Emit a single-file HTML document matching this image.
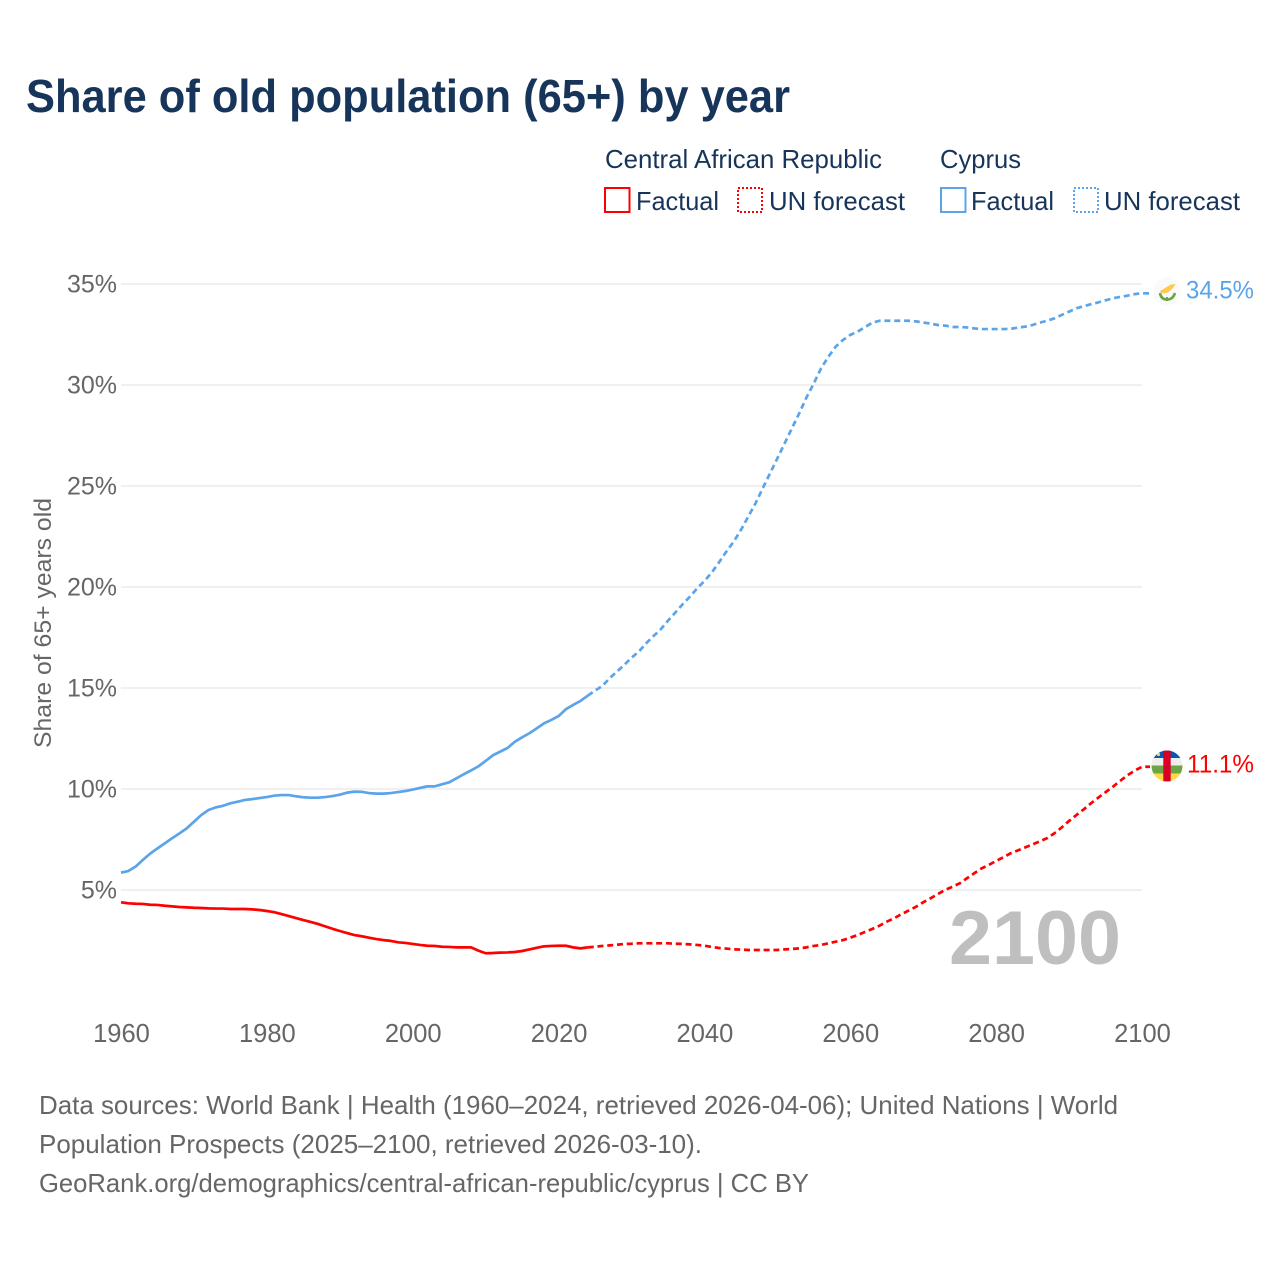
<!DOCTYPE html>
<html lang="en">
<head>
<meta charset="utf-8">
<title>Share of old population (65+) by year</title>
<style>
html,body{margin:0;padding:0;background:#fff;}
svg{display:block;}
text{font-family:"Liberation Sans",sans-serif;}
.navy{fill:#17355a;}
.grey{fill:#666;}
</style>
</head>
<body>
<svg id="chart" xmlns="http://www.w3.org/2000/svg" width="1280" height="1280" viewBox="0 0 1280 1280">
  <rect x="0" y="0" width="1280" height="1280" fill="#fff"/>
  <text class="navy" x="26" y="112" font-size="46" font-weight="bold" textLength="764" lengthAdjust="spacingAndGlyphs">Share of old population (65+) by year</text>

  <g font-size="26">
    <text class="navy" x="605" y="168" textLength="277" lengthAdjust="spacingAndGlyphs">Central African Republic</text>
    <text class="navy" x="940" y="168" textLength="81" lengthAdjust="spacingAndGlyphs">Cyprus</text>
    <rect x="605" y="188" width="24.5" height="24" fill="none" stroke="#ff0000" stroke-width="2"/>
    <text class="navy" x="636" y="210" textLength="83" lengthAdjust="spacingAndGlyphs">Factual</text>
    <rect x="738" y="188" width="24" height="24" fill="none" stroke="#ff0000" stroke-width="2" stroke-dasharray="2 2"/>
    <text class="navy" x="769" y="210" textLength="136" lengthAdjust="spacingAndGlyphs">UN forecast</text>
    <rect x="941" y="188" width="24.5" height="24" fill="none" stroke="#5ba4ea" stroke-width="2"/>
    <text class="navy" x="971" y="210" textLength="83" lengthAdjust="spacingAndGlyphs">Factual</text>
    <rect x="1074" y="188" width="24" height="24" fill="none" stroke="#5ba4ea" stroke-width="2" stroke-dasharray="2 2"/>
    <text class="navy" x="1104" y="210" textLength="136" lengthAdjust="spacingAndGlyphs">UN forecast</text>
  </g>

  <text class="grey" transform="translate(51,748) rotate(-90)" font-size="24" textLength="250" lengthAdjust="spacingAndGlyphs">Share of 65+ years old</text>

  <g id="grid"></g>
  <g id="yticks"></g>
  <g id="xticks"></g>

  <text x="949" y="964" font-size="76" font-weight="bold" fill="#bfbfbf" textLength="172" lengthAdjust="spacingAndGlyphs">2100</text>

  <g id="series"></g>

  <g id="flag-car">
    <clipPath id="clip-car"><circle cx="1167" cy="766" r="15.5"/></clipPath>
    <g clip-path="url(#clip-car)">
      <rect x="1150" y="750" width="34" height="8.2" fill="#0a56b0"/>
      <rect x="1150" y="758" width="34" height="7.5" fill="#eeeeee"/>
      <rect x="1150" y="765.5" width="34" height="8" fill="#6da544"/>
      <rect x="1150" y="773.5" width="34" height="9" fill="#ffda44"/>
      <rect x="1163.3" y="750" width="7.4" height="33" fill="#d80027"/>
      <circle cx="1158.5" cy="754.5" r="1.6" fill="#ffda44"/>
    </g>
  </g>
  <g id="flag-cyprus">
    <circle cx="1167" cy="291.5" r="14" fill="#fafafa"/>
    <path d="M1159.5 291.5 L1165 288 L1171 284.5 L1175.5 284 L1173 288 L1168 292.5 L1163 293.5 Z" fill="#ffc94a"/>
    <path d="M1160 293 Q1161 299.5 1167 299.5 Q1173 299.5 1175 293" fill="none" stroke="#6da544" stroke-width="2.6"/>
    <path d="M1167 297 L1167 301" stroke="#6da544" stroke-width="2"/>
  </g>

  <text id="label-cyprus" x="1186" y="298.5" font-size="25" fill="#5ba4ea" textLength="68" lengthAdjust="spacingAndGlyphs"></text>
  <text id="label-car" x="1187" y="772.5" font-size="25" fill="#ff0000" textLength="67" lengthAdjust="spacingAndGlyphs"></text>

  <g class="grey" font-size="26">
    <text class="grey" x="39" y="1114" textLength="1079" lengthAdjust="spacingAndGlyphs">Data sources: World Bank | Health (1960–2024, retrieved 2026-04-06); United Nations | World</text>
    <text class="grey" x="39" y="1153" textLength="663" lengthAdjust="spacingAndGlyphs">Population Prospects (2025–2100, retrieved 2026-03-10).</text>
    <text class="grey" x="39" y="1192" textLength="770" lengthAdjust="spacingAndGlyphs">GeoRank.org/demographics/central-african-republic/cyprus | CC BY</text>
  </g>
</svg>
<script>
const years = [
1960,1961,1962,1963,1964,1965,1966,1967,1968,1969,
1970,1971,1972,1973,1974,1975,1976,1977,1978,1979,
1980,1981,1982,1983,1984,1985,1986,1987,1988,1989,
1990,1991,1992,1993,1994,1995,1996,1997,1998,1999,
2000,2001,2002,2003,2004,2005,2006,2007,2008,2009,
2010,2011,2012,2013,2014,2015,2016,2017,2018,2019,
2020,2021,2022,2023,2024,2025,2026,2027,2028,2029,
2030,2031,2032,2033,2034,2035,2036,2037,2038,2039,
2040,2041,2042,2043,2044,2045,2046,2047,2048,2049,
2050,2051,2052,2053,2054,2055,2056,2057,2058,2059,
2060,2061,2062,2063,2064,2065,2066,2067,2068,2069,
2070,2071,2072,2073,2074,2075,2076,2077,2078,2079,
2080,2081,2082,2083,2084,2085,2086,2087,2088,2089,
2090,2091,2092,2093,2094,2095,2096,2097,2098,2099,
2100];
const carValues = [
4.39,4.34,4.32,4.31,4.27,4.26,4.22,4.19,4.16,4.14,
4.12,4.11,4.09,4.08,4.08,4.06,4.06,4.06,4.04,4.01,
3.96,3.90,3.81,3.71,3.61,3.51,3.42,3.32,3.20,3.08,
2.97,2.87,2.77,2.71,2.64,2.57,2.52,2.48,2.41,2.38,
2.33,2.28,2.24,2.23,2.19,2.18,2.16,2.16,2.16,2.00,
1.87,1.88,1.90,1.91,1.93,1.98,2.06,2.14,2.21,2.23,
2.24,2.24,2.16,2.11,2.16,2.19,2.23,2.26,2.29,2.33,
2.34,2.36,2.36,2.36,2.36,2.36,2.34,2.33,2.31,2.28,
2.24,2.18,2.13,2.10,2.06,2.05,2.03,2.03,2.03,2.03,
2.03,2.06,2.08,2.11,2.16,2.23,2.28,2.36,2.44,2.52,
2.64,2.77,2.92,3.07,3.23,3.43,3.60,3.80,3.98,4.17,
4.39,4.59,4.80,5.00,5.16,5.33,5.58,5.83,6.07,6.24,
6.44,6.62,6.82,6.96,7.11,7.26,7.41,7.57,7.81,8.10,
8.42,8.71,8.99,9.29,9.57,9.84,10.11,10.40,10.68,10.91,
11.10];
const cyprusValues = [
5.86,5.94,6.16,6.49,6.80,7.06,7.31,7.56,7.80,8.05,
8.38,8.71,8.96,9.09,9.17,9.29,9.37,9.46,9.50,9.55,
9.60,9.67,9.70,9.70,9.64,9.59,9.57,9.57,9.60,9.65,
9.72,9.82,9.87,9.86,9.80,9.77,9.77,9.80,9.85,9.90,
9.97,10.05,10.13,10.13,10.23,10.33,10.53,10.73,10.92,11.12,
11.39,11.67,11.85,12.03,12.34,12.56,12.76,13.00,13.25,13.42,
13.61,13.95,14.16,14.36,14.62,14.87,15.10,15.48,15.81,16.14,
16.50,16.80,17.21,17.57,17.90,18.33,18.73,19.14,19.52,19.93,
20.30,20.71,21.22,21.75,22.24,22.82,23.48,24.14,24.89,25.63,
26.37,27.11,27.86,28.60,29.39,30.08,30.83,31.40,31.90,32.23,
32.48,32.64,32.86,33.08,33.18,33.18,33.18,33.18,33.18,33.15,
33.09,33.04,32.97,32.94,32.87,32.87,32.85,32.80,32.77,32.77,
32.77,32.77,32.78,32.84,32.89,32.97,33.09,33.18,33.30,33.47,
33.63,33.80,33.90,34.00,34.09,34.19,34.29,34.36,34.42,34.50,
34.54];
const lastFactualYear = 2024;
const yTickValues = [5,10,15,20,25,30,35];
const yTickLabels = ["5%","10%","15%","20%","25%","30%","35%"];
const xTickValues = [1960,1980,2000,2020,2040,2060,2080,2100];
const xTickLabels = ["1960","1980","2000","2020","2040","2060","2080","2100"];

const SVG_NS = "http://www.w3.org/2000/svg";
const plotLeft = 121, plotRight = 1142;
function xScale(year){ return plotLeft + (year - 1960) * (plotRight - plotLeft) / 140; }
function yScale(v){ return 991 - v * 20.2; }

const gridG = document.getElementById("grid");
const yG = document.getElementById("yticks");
const xG = document.getElementById("xticks");
const seriesG = document.getElementById("series");

yTickValues.forEach(function(v, i){
  const line = document.createElementNS(SVG_NS, "line");
  
  
  line.setAttribute("x1", plotLeft);
  line.setAttribute("x2", plotRight);
  line.setAttribute("y1", yScale(v));
  line.setAttribute("y2", yScale(v));
  line.setAttribute("stroke", "#e8e8e8");
  line.setAttribute("stroke-width", "1.2");
  gridG.appendChild(line);

  const t = document.createElementNS(SVG_NS, "text");
  
  
  t.setAttribute("x", 117);
  t.setAttribute("y", yScale(v) + 8.5);
  t.setAttribute("text-anchor", "end");
  t.setAttribute("font-size", "25");
  t.setAttribute("fill", "#666");
  t.textContent = yTickLabels[i];
  yG.appendChild(t);
});

xTickValues.forEach(function(yr, i){
  const t = document.createElementNS(SVG_NS, "text");
  
  
  t.setAttribute("x", xScale(yr) + 0.5);
  t.setAttribute("y", 1042);
  t.setAttribute("text-anchor", "middle");
  t.setAttribute("font-size", "25.5");
  t.setAttribute("fill", "#666");
  t.textContent = xTickLabels[i];
  xG.appendChild(t);
});

function pathFor(pairs){
  return pairs.map(function(p, i){
    return (i ? "L" : "M") + xScale(p[0]).toFixed(2) + " " + yScale(p[1]).toFixed(2);
  }).join(" ");
}

function drawSeries(values, color, key){
  const factual = [], forecast = [];
  years.forEach(function(yr, i){
    if (yr <= lastFactualYear) factual.push([yr, values[i]]);
    if (yr >= lastFactualYear) forecast.push([yr, values[i]]);
  });
  const solid = document.createElementNS(SVG_NS, "path");
  
  
  solid.setAttribute("d", pathFor(factual));
  solid.setAttribute("fill", "none");
  solid.setAttribute("stroke", color);
  solid.setAttribute("stroke-width", "2.7");
  solid.setAttribute("stroke-linejoin", "round");
  seriesG.appendChild(solid);

  const dashed = document.createElementNS(SVG_NS, "path");
  
  
  const last = values[values.length - 1];
  dashed.setAttribute("d", pathFor(forecast) + " h8");
  dashed.setAttribute("fill", "none");
  dashed.setAttribute("stroke", color);
  dashed.setAttribute("stroke-width", "2.7");
  dashed.setAttribute("stroke-linejoin", "round");
  dashed.setAttribute("stroke-dasharray", "6 3.8");
  seriesG.appendChild(dashed);
  return last;
}

const carLast = drawSeries(carValues, "#ff0000", "central-african-republic");
const cyprusLast = drawSeries(cyprusValues, "#5ba4ea", "cyprus");

document.getElementById("label-car").textContent = carLast.toFixed(1) + "%";
document.getElementById("label-cyprus").textContent = cyprusLast.toFixed(1) + "%";
</script>
</body>
</html>
